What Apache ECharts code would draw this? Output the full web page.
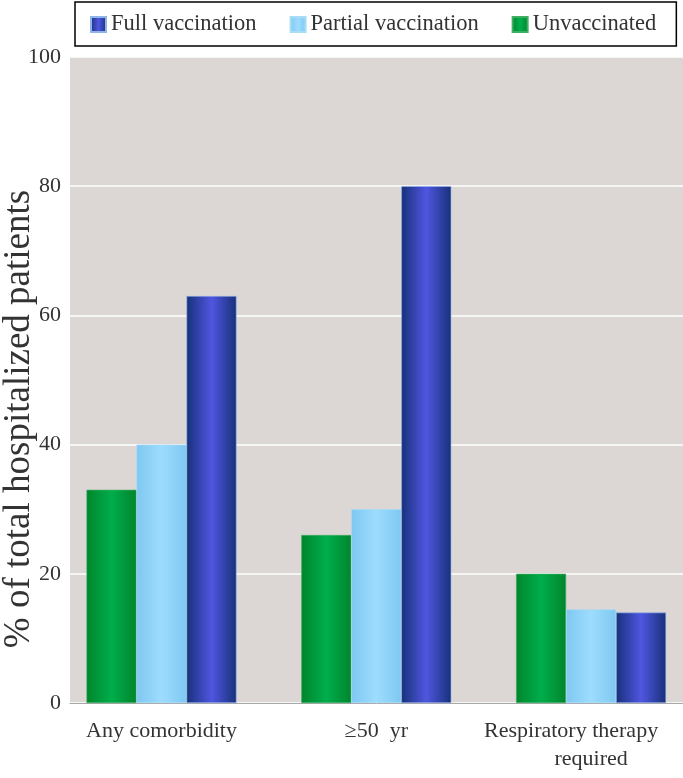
<!DOCTYPE html>
<html>
<head>
<meta charset="utf-8">
<script src="https://cdn.jsdelivr.net/npm/echarts@6/dist/echarts.min.js"></script>
<style>
html,body{margin:0;padding:0;background:#fff;}
#chart{width:683px;height:778px;}
</style>
</head>
<body>
<div id="chart"></div>
<script>
var categories = ['Any comorbidity', '\u226550  yr', 'Respiratory therapy\nrequired'];
var unvaccinated = [33, 26, 20];
var partialVaccination = [40, 30, 14.5];
var fullVaccination = [63, 80, 14];
var yTicks = [0, 20, 40, 60, 80, 100];

function grad(edge, mid) {
  return new echarts.graphic.LinearGradient(0, 0, 1, 0, [
    {offset: 0, color: edge},
    {offset: 0.5, color: mid},
    {offset: 1, color: edge}
  ]);
}
function pairs(arr) { return arr.map(function (v, i) { return [i, v]; }); }

var font = 'Liberation Serif';
var chart = echarts.init(document.getElementById('chart'));
chart.setOption({
  animation: false,
  legend: {
    data: ['Full vaccination', 'Partial vaccination', 'Unvaccinated'],
    left: 75, top: 2,
    padding: [11, 20, 10, 15],
    itemGap: 33,
    itemWidth: 15, itemHeight: 15,
    icon: 'rect',
    backgroundColor: '#fff',
    borderColor: '#000',
    borderWidth: 1.5,
    textStyle: {fontFamily: font, fontSize: 22.5, color: '#333'}
  },
  grid: {
    left: 70, right: 0, top: 57, bottom: 75,
    outerBoundsMode: 'none', containLabel: false,
    show: true, backgroundColor: '#dcd7d5', borderWidth: 0
  },
  xAxis: {
    type: 'value',
    min: -0.426, max: 2.428,
    axisLine: {show: true, lineStyle: {color: '#a8a8a8', width: 1}},
    axisTick: {show: false},
    splitLine: {show: false},
    axisLabel: {
      customValues: [0, 1, 2],
      formatter: function (v) {
        var s = categories[Math.round(v)];
        var lines = s.split('\n');
        if (lines.length > 1) {
          return '{a|' + lines[0] + '}\n{b|' + lines[1] + '}';
        }
        return s;
      },
      rich: {
        a: {fontFamily: font, fontSize: 22, color: '#333', lineHeight: 28, padding: [0, 40, 0, 0]},
        b: {fontFamily: font, fontSize: 22, color: '#333', lineHeight: 28}
      },
      fontFamily: font, fontSize: 22, color: '#333', margin: 14, lineHeight: 28
    }
  },
  yAxis: {
    type: 'value', min: 0, max: 100, interval: 20,
    name: '% of total hospitalized patients',
    nameLocation: 'middle', nameGap: 32, nameMoveOverlap: false,
    nameTextStyle: {fontFamily: font, fontSize: 37, color: '#333', padding: [0, 78, 0, 0]},
    axisLine: {show: false}, axisTick: {show: false},
    axisLabel: {fontFamily: font, fontSize: 22, color: '#333', margin: 9,
      customValues: yTicks},
    splitLine: {lineStyle: {color: '#ffffff', width: 1.5}}
  },
  series: [
    {name: 'Unvaccinated', type: 'bar', barWidth: 50, barGap: '0%',
     data: pairs(unvaccinated),
     itemStyle: {color: grad('#00862c', '#00ad4c'), borderColor: '#3fae62', borderWidth: 0.6}},
    {name: 'Partial vaccination', type: 'bar', barWidth: 50, barGap: '0%',
     data: pairs(partialVaccination),
     itemStyle: {color: grad('#7ec8f2', '#9edcfd'), borderColor: '#a9dcf6', borderWidth: 0.6}},
    {name: 'Full vaccination', type: 'bar', barWidth: 50, barGap: '0%',
     data: pairs(fullVaccination),
     itemStyle: {color: grad('#17317a', '#5056e0'), borderColor: '#8fb4e8', borderWidth: 0.6}}
  ]
});
</script>
</body>
</html>
